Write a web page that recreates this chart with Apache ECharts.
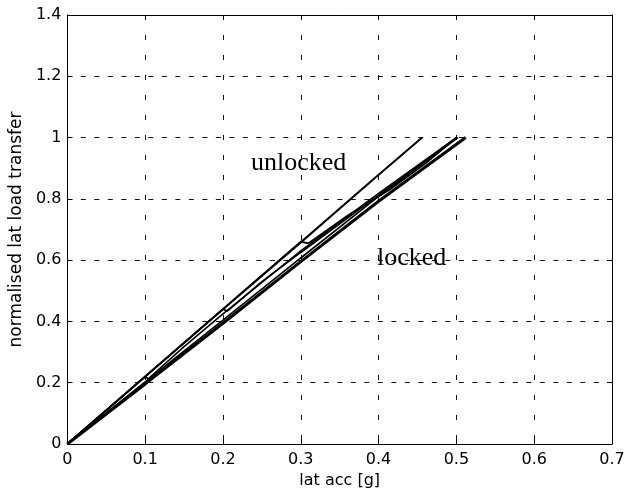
<!DOCTYPE html>
<html>
<head>
<meta charset="utf-8">
<script src="https://cdn.jsdelivr.net/npm/echarts@6/dist/echarts.min.js"></script>
<style>
html,body{margin:0;padding:0;background:#fff;}
#chart{width:639px;height:501px;}
</style>
</head>
<body>
<div id="chart"></div>
<script>
// Data: [lat acc (g), normalised lat load transfer]
const unlockedX = [0, 0.05, 0.1, 0.2, 0.3, 0.393, 0.456];
const unlockedY = [0, 0.11, 0.22, 0.44, 0.658, 0.863, 1.0];

const lockedX = [0, 0.1, 0.2, 0.3, 0.4, 0.512];
const lockedY = [0, 0.196, 0.394, 0.595, 0.792, 1.0];

const locked2X = [0, 0.1, 0.2, 0.3, 0.4, 0.502];
const locked2Y = [0, 0.203, 0.404, 0.607, 0.808, 1.0];

const switch1X = [0, 0.05, 0.1, 0.104, 0.15, 0.2, 0.3, 0.4, 0.5];
const switch1Y = [0, 0.11, 0.22, 0.213, 0.318, 0.425, 0.63, 0.818, 1.0];

const switch2X = [0, 0.1, 0.2, 0.206, 0.25, 0.3, 0.4, 0.5];
const switch2Y = [0, 0.22, 0.44, 0.434, 0.53, 0.625, 0.812, 1.0];

const switch3X = [0, 0.1, 0.2, 0.3, 0.31, 0.36, 0.414, 0.46, 0.5];
const switch3Y = [0, 0.22, 0.44, 0.66, 0.655, 0.745, 0.83, 0.915, 1.0];

const xTicks = [0, 0.1, 0.2, 0.3, 0.4, 0.5, 0.6, 0.7];
const yTicks = [0, 0.2, 0.4, 0.6, 0.8, 1, 1.2, 1.4];

const labels = [
  { text: 'unlocked', x: 0.236, y: 0.892 },
  { text: 'locked', x: 0.398, y: 0.585 }
];

function pairs(xs, ys) { return xs.map((x, i) => [x, ys[i]]); }

const chart = echarts.init(document.getElementById('chart'), null, { renderer: 'canvas' });

const tickFont = { fontFamily: 'DejaVu Sans', fontSize: 16, color: '#000' };

function mkSeries(xs, ys, w) {
  return {
    type: 'line', data: pairs(xs, ys), showSymbol: false, symbol: 'none',
    lineStyle: { color: '#000', width: w }, itemStyle: { color: '#000' },
    xAxisIndex: 0, yAxisIndex: 0, silent: true, z: 3
  };
}

const option = {
  animation: false,
  backgroundColor: '#fff',
  grid: { left: 67, right: 27, top: 15, bottom: 57, containLabel: false },
  xAxis: [{
    type: 'value', min: 0, max: 0.7, interval: 0.1,
    name: 'lat acc [g]', nameLocation: 'middle', nameGap: 24,
    nameTextStyle: { fontFamily: 'DejaVu Sans', fontSize: 16, color: '#000' },
    axisLine: { show: true, onZero: false, lineStyle: { color: '#000', width: 1 } },
    axisTick: { show: true, inside: true, length: 5, lineStyle: { color: '#000' } },
    axisLabel: Object.assign({ margin: 8, formatter: v => String(+v.toFixed(1)) }, tickFont),
    splitLine: { show: true, lineStyle: { color: '#111', width: 1, type: [5, 15] } }
  }, {
    type: 'value', min: 0, max: 0.7, interval: 0.1, position: 'top',
    axisLine: { show: true, onZero: false, lineStyle: { color: '#000', width: 1 } },
    axisTick: { show: true, inside: true, length: 5, lineStyle: { color: '#000' } },
    axisLabel: { show: false }, splitLine: { show: false }
  }],
  yAxis: [{
    type: 'value', min: 0, max: 1.4, interval: 0.2,
    name: 'normalised lat load transfer', nameLocation: 'middle', nameGap: 35,
    nameTextStyle: { fontFamily: 'DejaVu Sans', fontSize: 17, color: '#000' },
    axisLine: { show: true, onZero: false, lineStyle: { color: '#000', width: 1 } },
    axisTick: { show: true, inside: true, length: 5, lineStyle: { color: '#000' } },
    axisLabel: Object.assign({ margin: 6, formatter: v => String(+v.toFixed(1)) }, tickFont),
    splitLine: { show: true, lineStyle: { color: '#111', width: 1, type: [5, 8.5] } }
  }, {
    type: 'value', min: 0, max: 1.4, interval: 0.2, position: 'right',
    axisLine: { show: true, onZero: false, lineStyle: { color: '#000', width: 1 } },
    axisTick: { show: true, inside: true, length: 5, lineStyle: { color: '#000' } },
    axisLabel: { show: false }, splitLine: { show: false }
  }],
  series: [
    mkSeries(unlockedX, unlockedY, 2),
    mkSeries(lockedX, lockedY, 3),
    mkSeries(locked2X, locked2Y, 1.6),
    mkSeries(switch1X, switch1Y, 1.6),
    mkSeries(switch2X, switch2Y, 1.6),
    mkSeries(switch3X, switch3Y, 1.8)
  ]
};

chart.setOption(option);

const graphics = labels.map(l => {
  const p = chart.convertToPixel({ gridIndex: 0 }, [l.x, l.y]);
  return {
    type: 'text', x: p[0], y: p[1] + 6, z: 1, silent: true,
    style: {
      text: l.text, fill: '#000',
      font: '26px "Liberation Serif", "Times New Roman", serif',
      textAlign: 'left', textVerticalAlign: 'bottom', verticalAlign: 'bottom'
    }
  };
});
chart.setOption({ graphic: graphics });
</script>
</body>
</html>
